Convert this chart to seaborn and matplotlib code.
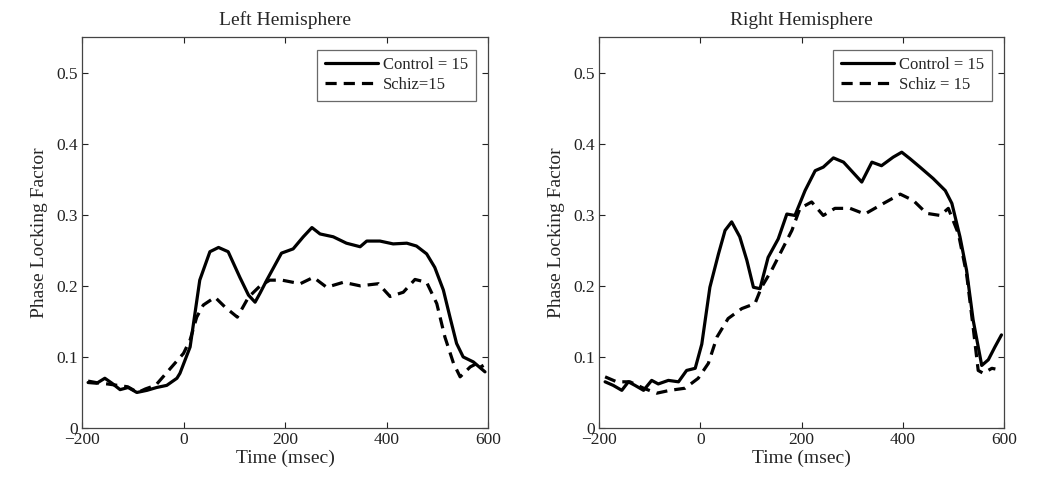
import seaborn as sns
import matplotlib.pyplot as plt
import pandas as pd

# Left hemisphere - control (solid)
left_ctrl_t = [-188, -171, -155, -141, -125, -109, -92, -72, -53, -33, -13, -7, 13, 32, 52, 69, 88,
               111, 128, 141, 151, 164, 193, 216, 236, 253, 269, 295, 321, 348, 361, 387, 413, 440,
               459, 479, 495, 512, 525, 538, 551, 571, 594]
left_ctrl_v = [0.064, 0.063, 0.070, 0.063, 0.054, 0.057, 0.050, 0.053, 0.057, 0.060, 0.070, 0.077,
               0.114, 0.208, 0.248, 0.254, 0.248, 0.212, 0.187, 0.177, 0.190, 0.208, 0.246, 0.252,
               0.269, 0.282, 0.273, 0.269, 0.260, 0.255, 0.263, 0.263, 0.259, 0.260, 0.256, 0.245,
               0.226, 0.194, 0.156, 0.119, 0.100, 0.093, 0.079]

# Left hemisphere - schizophrenia (dashed)
left_schiz_t = [-188, -165, -150, -130, -110, -90, -75, -55, -33, -11, 0, 13, 26, 39, 62, 82, 106,
                128, 151, 170, 194, 230, 256, 282, 315, 348, 384, 407, 433, 456, 479, 499, 515,
                532, 545, 565, 584, 590]
left_schiz_v = [0.066, 0.063, 0.062, 0.060, 0.058, 0.050, 0.055, 0.060, 0.078, 0.096, 0.105, 0.124,
                0.156, 0.173, 0.184, 0.170, 0.156, 0.184, 0.200, 0.208, 0.208, 0.203, 0.212, 0.198,
                0.205, 0.200, 0.203, 0.185, 0.191, 0.209, 0.205, 0.175, 0.128, 0.091, 0.072, 0.086,
                0.093, 0.085]

# Right hemisphere - control (solid)
right_ctrl_t = [-188, -172, -155, -142, -129, -112, -96, -83, -63, -43, -27, -10, 3, 19, 36, 49, 62,
                78, 92, 105, 118, 134, 154, 171, 187, 207, 227, 243, 263, 283, 319, 339, 358, 381,
                398, 414, 434, 460, 484, 497, 513, 526, 539, 556, 569, 582, 595]
right_ctrl_v = [0.065, 0.060, 0.053, 0.065, 0.060, 0.053, 0.067, 0.062, 0.067, 0.065, 0.081, 0.084,
                0.118, 0.198, 0.245, 0.278, 0.290, 0.269, 0.236, 0.198, 0.196, 0.240, 0.266, 0.301,
                0.299, 0.334, 0.362, 0.367, 0.380, 0.374, 0.346, 0.374, 0.369, 0.381, 0.388, 0.379,
                0.367, 0.351, 0.334, 0.316, 0.269, 0.222, 0.152, 0.088, 0.096, 0.114, 0.131]

# Right hemisphere - schizophrenia (dashed)
right_schiz_t = [-188, -165, -139, -112, -86, -60, -30, -4, 16, 33, 55, 82, 108, 121, 141, 161, 181,
                 197, 220, 243, 266, 296, 325, 362, 395, 421, 447, 474, 490, 510, 526, 539, 549,
                 559, 576, 583]
right_schiz_v = [0.072, 0.065, 0.065, 0.056, 0.049, 0.053, 0.056, 0.070, 0.091, 0.128, 0.154,
                 0.168, 0.175, 0.198, 0.222, 0.250, 0.278, 0.309, 0.318, 0.299, 0.309, 0.309, 0.301,
                 0.316, 0.329, 0.320, 0.302, 0.299, 0.309, 0.273, 0.217, 0.142, 0.081, 0.077, 0.084,
                 0.083]

titles = ["Left Hemisphere", "Right Hemisphere"]
legend_ctrl = ["Control = 15", "Control = 15"]
legend_schiz = ["Schiz=15", "Schiz = 15"]
x_ticks = [-200, 0, 200, 400, 600]
y_ticks = [0, 0.1, 0.2, 0.3, 0.4, 0.5]
y_tick_labels = ["0", "0.1", "0.2", "0.3", "0.4", "0.5"]

sns.set_style("ticks")
plt.rcParams['font.family'] = ['Liberation Serif', 'DejaVu Serif']
plt.rcParams['axes.unicode_minus'] = True

fig = plt.figure(figsize=(10.5, 4.86), dpi=100)
ax_left = fig.add_axes([0.0781, 0.1193, 0.3867, 0.8045])
ax_right = fig.add_axes([0.5705, 0.1193, 0.3857, 0.8045])

panels = [
    (ax_left, left_ctrl_t, left_ctrl_v, left_schiz_t, left_schiz_v),
    (ax_right, right_ctrl_t, right_ctrl_v, right_schiz_t, right_schiz_v),
]

for i, (ax, ct, cv, st, sv) in enumerate(panels):
    ctrl = pd.DataFrame({"time": ct, "plf": cv})
    schiz = pd.DataFrame({"time": st, "plf": sv})
    sns.lineplot(data=ctrl, x="time", y="plf", ax=ax, color="black", linewidth=2.3,
                 label=legend_ctrl[i])
    line_s = sns.lineplot(data=schiz, x="time", y="plf", ax=ax, color="black", linewidth=2.3,
                          label=legend_schiz[i]).lines[-1]
    line_s.set_dashes((3.5, 2.2))

    ax.set_xlim(-200, 600)
    ax.set_ylim(0, 0.55)
    ax.set_xticks(x_ticks)
    ax.set_yticks(y_ticks)
    ax.set_yticklabels(y_tick_labels)
    ax.tick_params(direction="in", top=True, right=True, length=4, width=0.8,
                   labelsize=12.5, colors="#222222", pad=3)
    for sp in ax.spines.values():
        sp.set_color("#444444")
        sp.set_linewidth(0.9)
    ax.set_xlabel("Time (msec)", fontsize=14, labelpad=1)
    ax.set_ylabel("Phase Locking Factor", fontsize=14, labelpad=6)
    ax.set_title(titles[i], fontsize=14, pad=9)

    leg = ax.legend(loc="upper right", fontsize=12, frameon=True, fancybox=False,
                    handlelength=3.2, borderaxespad=0.75, handletextpad=0.3,
                    labelspacing=0.25, borderpad=0.45)
    leg.get_frame().set_edgecolor("#444444")
    leg.get_frame().set_linewidth(0.9)

plt.savefig("out.png", dpi=100, facecolor="white")
